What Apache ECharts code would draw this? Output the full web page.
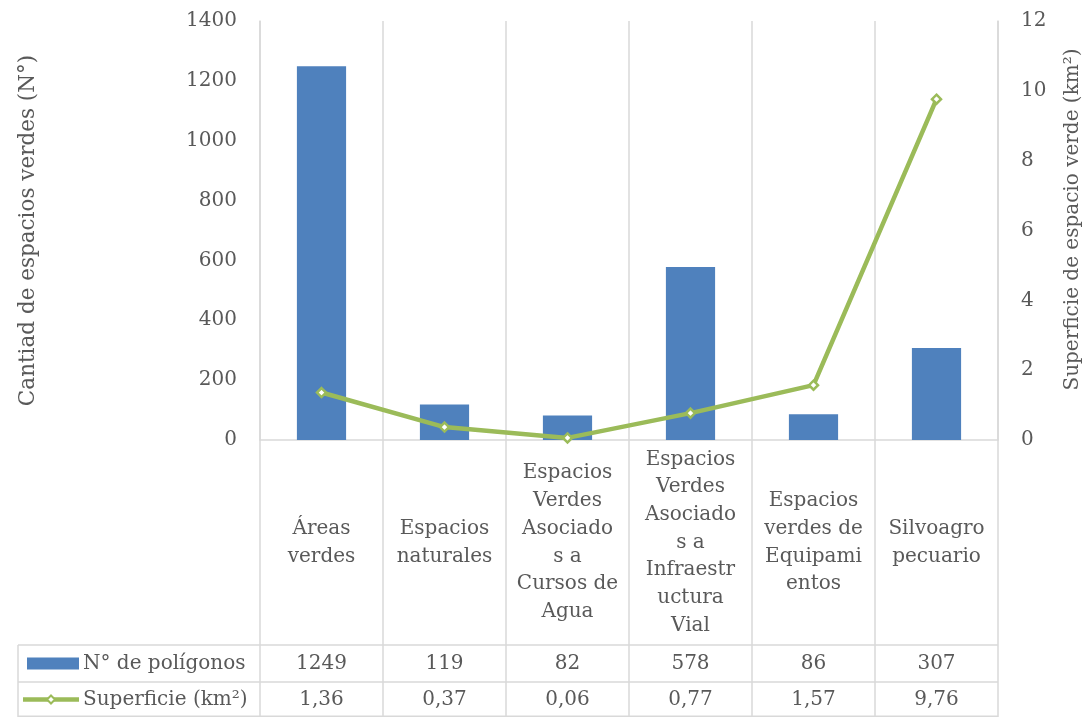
<!DOCTYPE html>
<html>
<head>
<meta charset="utf-8">
<script src="https://cdn.jsdelivr.net/npm/echarts@6/dist/echarts.min.js"></script>
<style>
  html, body { margin: 0; padding: 0; background: #fff; }
  #chart { width: 1091px; height: 717px; }
</style>
</head>
<body>
<div id="chart"></div>
<script>
// Tipos de espacio verde (con saltos de línea como en la tabla de datos)
const categories = [
  'Áreas\nverdes',
  'Espacios\nnaturales',
  'Espacios\nVerdes\nAsociado\ns a\nCursos de\nAgua',
  'Espacios\nVerdes\nAsociado\ns a\nInfraestr\nuctura\nVial',
  'Espacios\nverdes de\nEquipami\nentos',
  'Silvoagro\npecuario'
];
// Cantidad de polígonos (N°)
const poligonos = [1249, 119, 82, 578, 86, 307];
// Superficie (km²)
const superficie = [1.36, 0.37, 0.06, 0.77, 1.57, 9.76];

const seriesNames = ['N° de polígonos', 'Superficie (km²)'];

const FONT = 'DejaVu Serif';
const TEXT = '#595959';
const GRID = '#D9D9D9';
const BLUE = '#4F81BD';
const GREEN = '#9BBB59';
const FS = 20;

const fmtComma = v => v.toFixed(2).replace('.', ',');

const chart = echarts.init(document.getElementById('chart'));

const option = {
  animation: false,
  backgroundColor: '#ffffff',
  grid: { left: 260, right: 91, top: 21, bottom: 277, containLabel: false },
  xAxis: {
    type: 'category',
    data: categories,
    boundaryGap: true,
    axisLine: { show: true, lineStyle: { color: GRID, width: 1.5 } },
    axisTick: { show: false },
    axisLabel: { show: false },
    splitLine: { show: true, lineStyle: { color: GRID, width: 1.5 } }
  },
  yAxis: [
    {
      type: 'value', min: 0, max: 1400, interval: 200,
      name: 'Cantiad de espacios verdes (N°)',
      nameLocation: 'middle', nameGap: 221, nameRotate: 90,
      nameTextStyle: { fontFamily: FONT, fontSize: 21.5, color: TEXT },
      axisLine: { show: true, lineStyle: { color: GRID, width: 1.5 } },
      axisTick: { show: false },
      axisLabel: { margin: 23, fontFamily: FONT, fontSize: FS, color: TEXT, formatter: v => String(v) },
      splitLine: { show: false }
    },
    {
      type: 'value', min: 0, max: 12, interval: 2,
      name: 'Superficie de espacio verde (km²)',
      nameLocation: 'middle', nameGap: 65, nameRotate: 90,
      nameTextStyle: { fontFamily: FONT, fontSize: FS, color: TEXT, padding: [0, 0, 0, 22] },
      axisLine: { show: true, lineStyle: { color: GRID, width: 1.5 } },
      axisTick: { show: false },
      axisLabel: { margin: 23, fontFamily: FONT, fontSize: FS, color: TEXT, formatter: v => String(v) },
      splitLine: { show: false }
    }
  ],
  series: [
    {
      name: seriesNames[0],
      type: 'bar',
      yAxisIndex: 0,
      data: poligonos,
      barWidth: '40%',
      itemStyle: { color: BLUE }
    },
    {
      name: seriesNames[1],
      type: 'line',
      yAxisIndex: 1,
      data: superficie,
      symbol: 'diamond',
      symbolSize: 9,
      lineStyle: { color: GREEN, width: 4.5 },
      itemStyle: { color: '#ffffff', borderColor: GREEN, borderWidth: 2.5 },
      z: 5
    }
  ]
};

chart.setOption(option);

// Tabla de datos bajo el eje de categorías
function buildTable() {
  const centers = categories.map((c, i) => chart.convertToPixel({ xAxisIndex: 0 }, i));
  const band = centers[1] - centers[0];
  const bounds = centers.map(c => c - band / 2).concat([centers[centers.length - 1] + band / 2]);
  const catTop = chart.convertToPixel({ yAxisIndex: 0 }, 0);
  const row1Top = 645;
  const row2Top = 682;
  const tableBottom = 717;
  const tableLeft = 18;
  const lineStyle = { stroke: GRID, lineWidth: 1.5 };
  const els = [];

  // líneas verticales de la tabla
  bounds.forEach(x => {
    els.push({ type: 'line', shape: { x1: x, y1: catTop, x2: x, y2: tableBottom }, style: lineStyle, silent: true });
  });
  els.push({ type: 'line', shape: { x1: tableLeft, y1: row1Top, x2: tableLeft, y2: tableBottom }, style: lineStyle, silent: true });
  // líneas horizontales
  [row1Top, row2Top, tableBottom - 0.75].forEach(y => {
    els.push({ type: 'line', shape: { x1: tableLeft, y1: y, x2: bounds[bounds.length - 1], y2: y }, style: lineStyle, silent: true });
  });

  // rótulos de categoría
  categories.forEach((c, i) => {
    els.push({
      type: 'text', x: centers[i], y: (catTop + row1Top) / 2, silent: true,
      style: { text: c, fontFamily: FONT, fontSize: FS, fill: TEXT, align: 'center', verticalAlign: 'middle', lineHeight: 27.7 }
    });
  });

  const r1 = (row1Top + row2Top) / 2;
  const r2 = (row2Top + tableBottom) / 2;

  // claves de la leyenda
  els.push({ type: 'rect', shape: { x: 27, y: r1 - 6, width: 52, height: 12 }, style: { fill: BLUE }, silent: true });
  els.push({ type: 'line', shape: { x1: 23, y1: r2, x2: 79, y2: r2 }, style: { stroke: GREEN, lineWidth: 4.5 }, silent: true });
  els.push({ type: 'polygon', shape: { points: [[51, r2 - 4], [55, r2], [51, r2 + 4], [47, r2]] }, style: { fill: '#fff', stroke: GREEN, lineWidth: 2 }, silent: true });
  els.push({ type: 'text', x: 83, y: r1, silent: true, style: { text: seriesNames[0], fontFamily: FONT, fontSize: FS, fill: TEXT, align: 'left', verticalAlign: 'middle' } });
  els.push({ type: 'text', x: 83, y: r2, silent: true, style: { text: seriesNames[1], fontFamily: FONT, fontSize: FS, fill: TEXT, align: 'left', verticalAlign: 'middle' } });

  // valores
  poligonos.forEach((v, i) => {
    els.push({ type: 'text', x: centers[i], y: r1, silent: true, style: { text: String(v), fontFamily: FONT, fontSize: FS, fill: TEXT, align: 'center', verticalAlign: 'middle' } });
  });
  superficie.forEach((v, i) => {
    els.push({ type: 'text', x: centers[i], y: r2, silent: true, style: { text: fmtComma(v), fontFamily: FONT, fontSize: FS, fill: TEXT, align: 'center', verticalAlign: 'middle' } });
  });

  chart.setOption({ graphic: { elements: els } });
}

buildTable();
</script>
</body>
</html>
